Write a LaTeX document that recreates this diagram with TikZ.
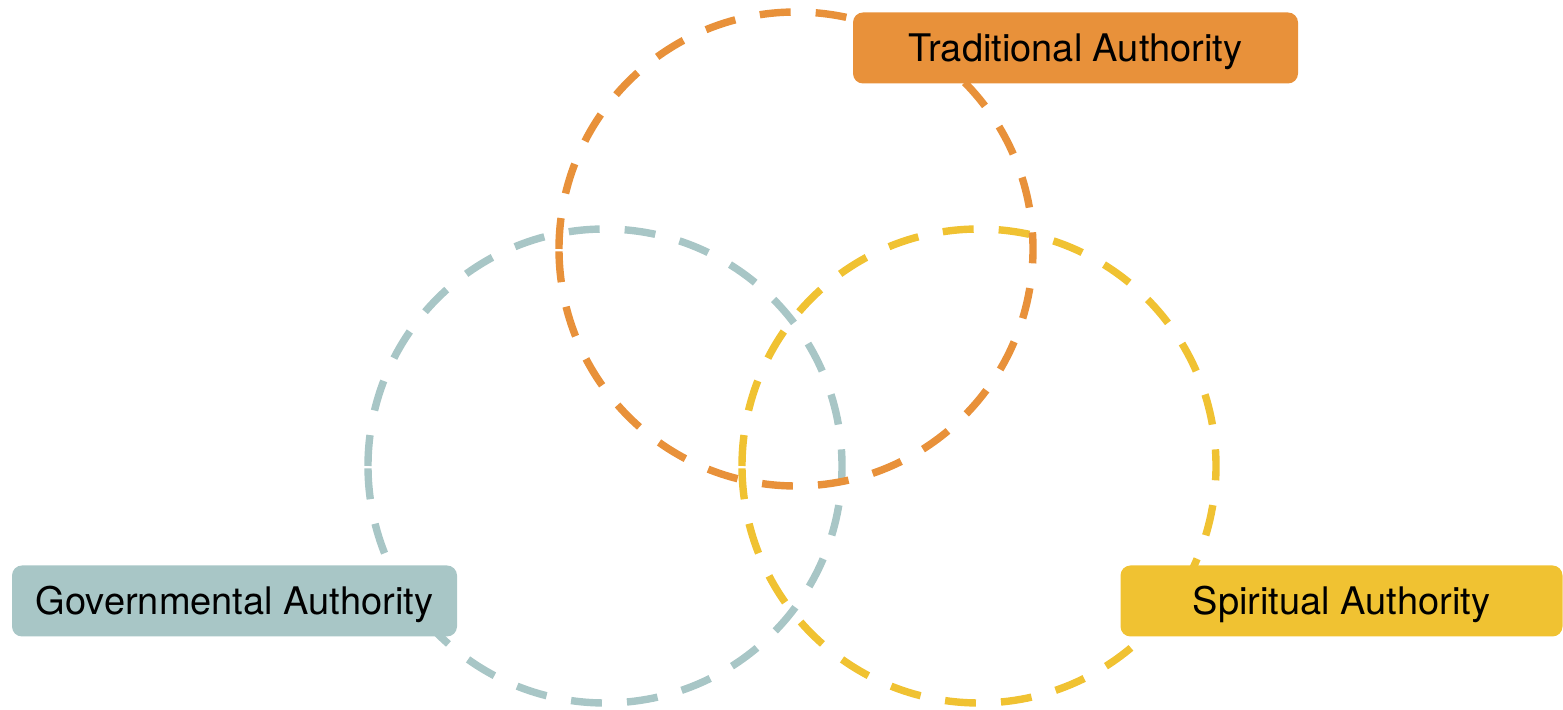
\documentclass[tikz,border=0pt]{standalone}
\usepackage{fontspec}
\setmainfont{TeX Gyre Heros}
\usetikzlibrary{positioning}

\definecolor{tradorange}{HTML}{E8913A}
\definecolor{govteal}{HTML}{A8C6C6}
\definecolor{spiryellow}{HTML}{F0C232}

\begin{document}
\begin{tikzpicture}[x=0.5pt, y=0.5pt,
ring/.style={line width=3.7pt, dash pattern=on 15.5pt off 12.5pt},
authbox/.style={rounded corners=5pt, minimum height=35.5pt, inner sep=0pt, text height=13.6pt, text depth=0pt, font=\fontsize{19}{23}\selectfont, text=black},
]
\useasboundingbox (0,0) rectangle (1563,710);
\coordinate (ctrad) at (796,461);
\coordinate (cgov) at (605,244);
\coordinate (cspir) at (979,244);
\draw[ring, govteal] (cgov) ++(-237,0) arc (180:-180:118.5pt);
\draw[ring, spiryellow] (cspir) ++(-237,0) arc (180:-180:118.5pt);
\draw[ring, tradorange] (ctrad) ++(-237,0) arc (180:-180:118.5pt);
\node[authbox, fill=tradorange, minimum width=222.5pt](trad) at (1075.5,662){Traditional Authority};
\node[authbox, fill=govteal, minimum width=222.5pt](gov) at (234.5,109){Governmental Authority};
\node[authbox, fill=spiryellow, minimum width=221pt](spir) at (1341.5,109){Spiritual Authority};
\end{tikzpicture}
\end{document}
